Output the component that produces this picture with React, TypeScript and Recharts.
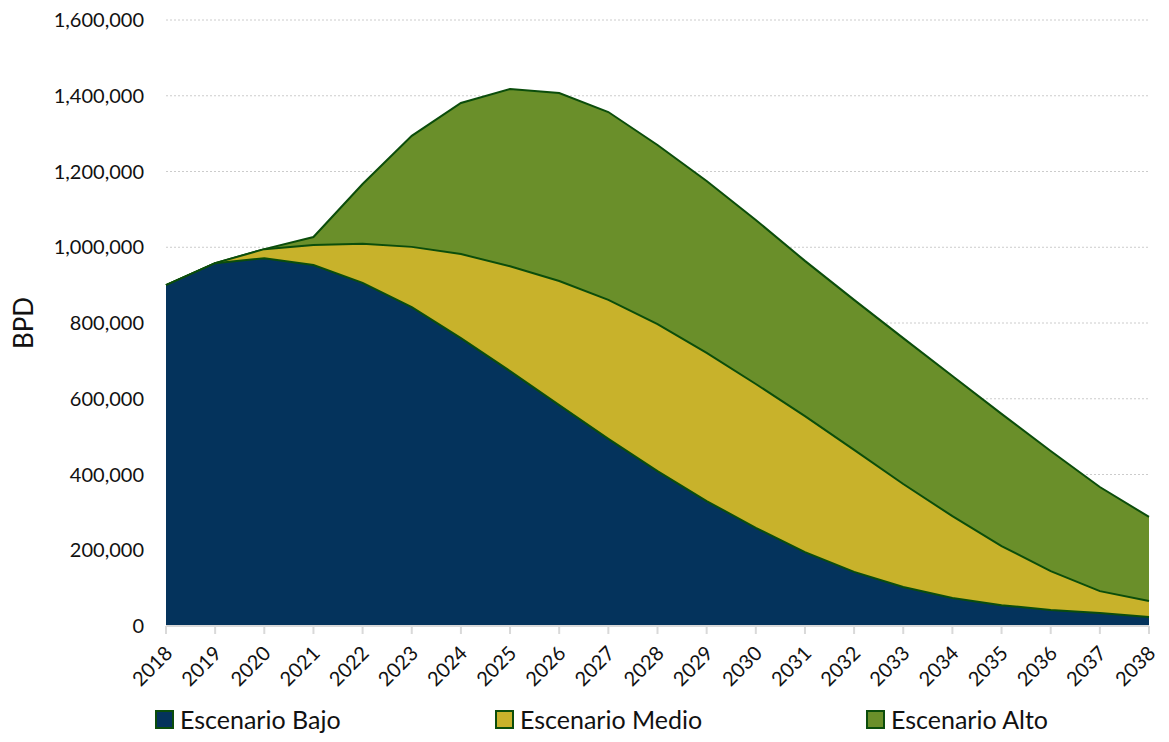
import { AreaChart, Area, CartesianGrid, Legend, XAxis, YAxis } from 'recharts'

const years = [2018, 2019, 2020, 2021, 2022, 2023, 2024, 2025, 2026, 2027, 2028, 2029, 2030, 2031, 2032, 2033, 2034, 2035, 2036, 2037, 2038]

const bajo = [900000, 958000, 971000, 953000, 906000, 842000, 760000, 673000, 583000, 494000, 409000, 330000, 259000, 195000, 143000, 103000, 74000, 55000, 42000, 34000, 24000]
const medio = [900000, 958000, 995000, 1006000, 1009000, 1001000, 982000, 950000, 911000, 861000, 797000, 721000, 639000, 554000, 465000, 375000, 290000, 211000, 145000, 92000, 66000]
const alto = [900000, 958000, 995000, 1027000, 1167000, 1294000, 1381000, 1418000, 1407000, 1357000, 1270000, 1175000, 1072000, 964000, 861000, 760000, 660000, 560000, 462000, 367000, 288000]

const yTicks = [0, 200000, 400000, 600000, 800000, 1000000, 1200000, 1400000, 1600000]

const series = [
    { key: 'alto', name: 'Escenario Alto', fill: '#6a8f2a' },
    { key: 'medio', name: 'Escenario Medio', fill: '#c8b22b' },
    { key: 'bajo', name: 'Escenario Bajo', fill: '#04335c' },
]

const data = years.map((year, i) => ({
    year: String(year),
    bajo: bajo[i],
    medio: medio[i],
    alto: alto[i],
}))

const FONT = 'Lato, sans-serif'
const EDGE = '#0b4d0b'

function YearTick(props: any) {
    const { x, y, payload } = props
    const tx = x + 2
    const ty = y + 13
    return (
        <text
            x={tx}
            y={ty}
            transform={`rotate(-45, ${tx}, ${ty})`}
            textAnchor="end"
            dominantBaseline="central"
            fontFamily={FONT}
            fontSize={20}
            fill="#111"
        >
            {payload.value}
        </text>
    )
}

function BpdLabel(props: any) {
    const { viewBox } = props
    const cx = viewBox.x + 7
    const cy = viewBox.y + viewBox.height / 2
    return (
        <text
            x={cx}
            y={cy}
            transform={`rotate(-90, ${cx}, ${cy})`}
            textAnchor="middle"
            dominantBaseline="central"
            fontFamily={FONT}
            fontSize={26}
            fill="#111"
        >
            BPD
        </text>
    )
}

function LegendBox() {
    const items = [
        { name: 'Escenario Bajo', fill: '#04335c', left: 147 },
        { name: 'Escenario Medio', fill: '#c8b22b', left: 487 },
        { name: 'Escenario Alto', fill: '#6a8f2a', left: 858 },
    ]
    return (
        <div style={{ position: 'relative', height: 14, fontFamily: FONT, fontSize: 25, lineHeight: 1, color: '#111' }}>
            {items.map((it) => (
                <div key={it.name} style={{ position: 'absolute', left: it.left, top: -6, display: 'flex', alignItems: 'center', height: 26, whiteSpace: 'nowrap' }}>
                    <span style={{ width: 15, height: 15, background: it.fill, border: `2px solid ${EDGE}`, marginRight: 6, display: 'inline-block' }} />
                    <span>{it.name}</span>
                </div>
            ))}
        </div>
    )
}

export default function App() {
    return (
        <AreaChart
            width={1153}
            height={726}
            data={data}
            margin={{ top: 12, right: 12, left: 8, bottom: 8 }}
        >
            <CartesianGrid vertical={false} stroke="#cccccc" strokeDasharray="2 2" />
            <XAxis
                dataKey="year"
                height={86}
                interval={0}
                tick={<YearTick />}
                stroke="#d9d9d9"
                tickSize={8}
                tickLine={{ stroke: '#d9d9d9', strokeWidth: 2 }}
                axisLine={{ stroke: '#d9d9d9', strokeWidth: 2 }}
            />
            <YAxis
                width={150}
                domain={[0, 1600000]}
                ticks={yTicks}
                tickFormatter={(v: number) => v.toLocaleString('en-US')}
                axisLine={false}
                tickLine={false}
                tickSize={0}
                tickMargin={22}
                tick={{ fontFamily: FONT, fontSize: 20, fill: '#111' }}
                label={<BpdLabel />}
            />
            <Legend verticalAlign="bottom" content={<LegendBox />} wrapperStyle={{ left: 0, width: 1153 }} />
            {series.map((s) => (
                <Area
                    key={s.key}
                    type="linear"
                    dataKey={s.key}
                    name={s.name}
                    fill={s.fill}
                    fillOpacity={1}
                    stroke={EDGE}
                    strokeWidth={2}
                    isAnimationActive={false}
                />
            ))}
        </AreaChart>
    )
}
